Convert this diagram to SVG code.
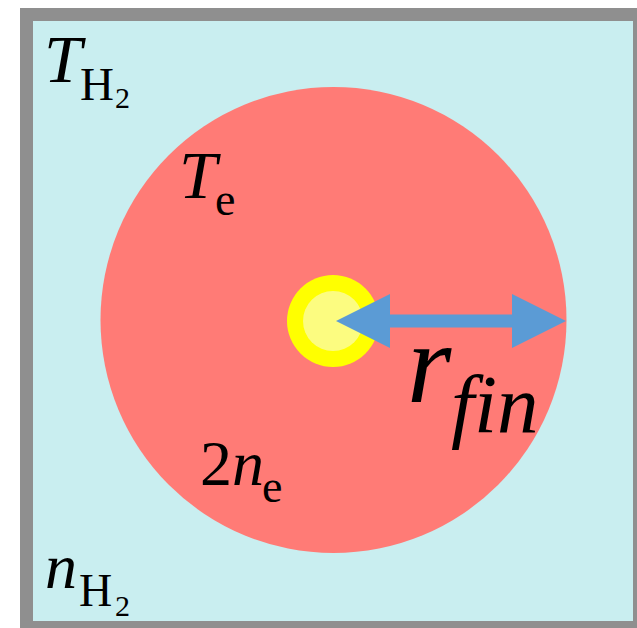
<svg xmlns="http://www.w3.org/2000/svg" width="637" height="628" viewBox="0 0 637 628">
<style>
text{font-family:"Liberation Serif","Times New Roman",serif;fill:#000}
.i{font-style:italic}
</style>
<rect width="637" height="628" fill="#fff"/>
<g id="frame">
<rect x="26.5" y="14.5" width="613" height="613" fill="#C9EEF0" stroke="#8F8F8F" stroke-width="13"/>
</g>
<g id="plasma">
<circle cx="333.5" cy="320" r="233" fill="#FF7B76"/>
</g>
<g id="core">
<circle cx="333" cy="321" r="46" fill="#FFFF00"/>
<circle cx="333" cy="321" r="30" fill="#FCFC80"/>
</g>
<g id="connectors">
<line x1="390" y1="321" x2="512" y2="321" stroke="#5B9BD5" stroke-width="13"/>
<path d="M336,321 L390,294 L390,348 Z" fill="#5B9BD5"/>
<path d="M566,321 L512,294 L512,348 Z" fill="#5B9BD5"/>
</g>
<g id="label-TH2">
<text class="i" x="44" y="82" font-size="68">T</text>
<text x="80" y="100" font-size="47">H<tspan x="115" y="108" font-size="30">2</tspan></text>
</g>
<g id="label-Te">
<text class="i" x="179" y="198" font-size="68">T</text>
<text x="215" y="215" font-size="46">e</text>
</g>
<g id="label-2ne">
<text x="200" y="485" font-size="64">2<tspan class="i">n</tspan></text>
<text x="262" y="502" font-size="46">e</text>
</g>
<g id="label-nH2">
<text class="i" x="45" y="588" font-size="64">n</text>
<text x="79" y="606" font-size="46">H<tspan x="115" y="616" font-size="30">2</tspan></text>
</g>
<g id="label-rfin">
<text class="i" x="407" y="402" font-size="114">r</text>
<text class="i" x="451" y="432" font-size="83">fin</text>
</g>
</svg>
